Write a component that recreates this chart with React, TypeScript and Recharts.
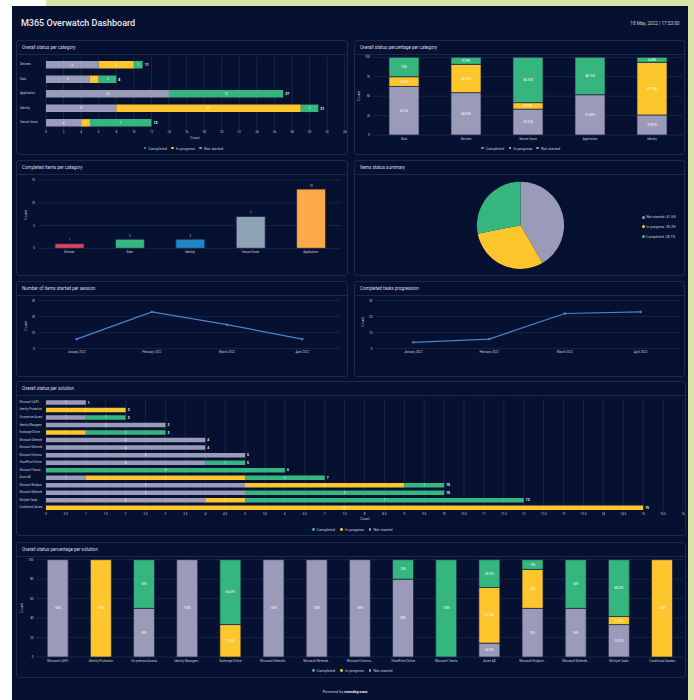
import React from 'react';
import {
  BarChart, Bar, XAxis, YAxis, CartesianGrid, LabelList,
  PieChart, Pie, Cell, LineChart, Line,
} from 'recharts';

const FONT = 'Roboto, "Noto Sans", Arial, sans-serif';
const BG = '#061030';
const BORDER = '#1e2848';
const GRID = '#1a2445';
const TXT = '#c9cddb';
const TITLE = '#d9dce6';
const GREEN_BAND = '#dae2a8';
const C_DONE = '#36b67f';
const C_PROG = '#fdc62c';
const C_NS = '#9a9ab9';
const LINE_C = '#4a84d0';
const BAR_EDGE = '#1b2142';

// ---------- Overall status per category ----------
const categoryNames = ['Devices', 'Data', 'Application', 'Identity', 'Secure Score'];
const categoryNotStarted = [6, 5, 14, 8, 4];
const categoryInProgress = [4, 1, 0, 21, 1];
const categoryCompleted = [1, 2, 13, 2, 7];
const categoryTotals = [11, 8, 27, 31, 12];
const categoryTicks = [0, 2, 4, 6, 8, 10, 12, 14, 16, 18, 20, 22, 24, 26, 28, 30, 32, 34];

// ---------- Overall status percentage per category ----------
const pctCategoryNames = ['Data', 'Devices', 'Secure Score', 'Application', 'Identity'];
const pctCategoryNotStarted = [62.5, 54.55, 33.33, 51.85, 25.81];
const pctCategoryInProgress = [12.5, 36.36, 8.33, 0, 67.74];
const pctCategoryCompleted = [25, 9.09, 58.33, 48.15, 6.45];
const pctTicks = [0, 25, 50, 75, 100];

// ---------- Completed items per category ----------
const doneCategoryNames = ['Devices', 'Data', 'Identity', 'Secure Score', 'Application'];
const doneCategoryValues = [1, 2, 2, 7, 13];
const doneCategoryColors = ['#e2445c', '#36b67f', '#1f86c8', '#8fa3b6', '#fca94a'];
const doneTicks = [0, 5, 10, 15];

// ---------- Items status summary ----------
const pieNames = ['Not started', 'In progress', 'Completed'];
const pieValues = [41.6, 30.3, 28.1];
const pieColors = [C_NS, C_PROG, C_DONE];

// ---------- Line charts ----------
const months = ['January 2022', 'February 2022', 'March 2022', 'April 2022'];
const startedPerSession = [6, 23, 15, 6];
const completedProgression = [4, 6, 22, 23];
const lineTicks = [0, 10, 20, 30];

// ---------- Overall status per solution ----------
const solutionNames = [
  'Microsoft LAPS', 'Identity Protection', 'On-premise Access', 'Identity Managem...',
  'Exchange Online', 'Microsoft Defende...', 'Microsoft Defende...', 'Microsoft Informa...',
  'SharePoint Online', 'Microsoft Teams', 'Azure AD', 'Microsoft Endpoin...',
  'Microsoft Defende...', 'Multiple Tasks', 'Conditional Access',
];
const solutionNotStarted = [1, 0, 1, 3, 0, 4, 4, 5, 4, 0, 1, 5, 5, 4, 0];
const solutionInProgress = [0, 2, 0, 0, 1, 0, 0, 0, 0, 0, 4, 4, 0, 1, 15];
const solutionCompleted = [0, 0, 1, 0, 2, 0, 0, 0, 1, 6, 2, 1, 5, 7, 0];
const solutionTotals = [1, 2, 2, 3, 3, 4, 4, 5, 5, 6, 7, 10, 10, 12, 15];
const solutionTicks = [0, 0.5, 1, 1.5, 2, 2.5, 3, 3.5, 4, 4.5, 5, 5.5, 6, 6.5, 7, 7.5, 8, 8.5, 9, 9.5, 10, 10.5, 11, 11.5, 12, 12.5, 13, 13.5, 14, 14.5, 15, 15.5, 16];

// ---------- Overall status percentage per solution ----------
const pctSolutionNotStarted = [100, 0, 50, 100, 0, 100, 100, 100, 80, 0, 14.29, 50, 50, 33.33, 0];
const pctSolutionInProgress = [0, 100, 0, 0, 33.33, 0, 0, 0, 0, 0, 57.14, 40, 0, 8.33, 100];
const pctSolutionCompleted = [0, 0, 50, 0, 66.67, 0, 0, 0, 20, 100, 28.57, 10, 50, 58.33, 0];
const pctSolutionTicks = [0, 20, 40, 60, 80, 100];

const legendItems = [
  { label: 'Completed', color: C_DONE },
  { label: 'In progress', color: C_PROG },
  { label: 'Not started', color: C_NS },
];

const categoryData = categoryNames.map((name, i) => ({
  name, ns: categoryNotStarted[i], ip: categoryInProgress[i], done: categoryCompleted[i], total: categoryTotals[i],
}));
const pctCategoryData = pctCategoryNames.map((name, i) => ({
  name, ns: pctCategoryNotStarted[i], ip: pctCategoryInProgress[i], done: pctCategoryCompleted[i],
}));
const doneCategoryData = doneCategoryNames.map((name, i) => ({ name, value: doneCategoryValues[i] }));
const pieData = pieNames.map((name, i) => ({ name, value: pieValues[i] }));
const startedData = months.map((name, i) => ({ name, value: startedPerSession[i] }));
const progressionData = months.map((name, i) => ({ name, value: completedProgression[i] }));
const solutionData = solutionNames.map((name, i) => ({
  name, ns: solutionNotStarted[i], ip: solutionInProgress[i], done: solutionCompleted[i], total: solutionTotals[i],
}));
const pctSolutionData = solutionNames.map((name, i) => ({
  name, ns: pctSolutionNotStarted[i], ip: pctSolutionInProgress[i], done: pctSolutionCompleted[i],
}));

const nz = (v: any) => (v ? v : '');
const pct = (v: any) => (v ? `${v}%` : '');
const tickStyle = { fill: TXT, fontSize: 3, fontFamily: FONT };

// the total is written after the last non-empty segment of each row
const lastSeg = (p: any) => (p.done ? 'done' : p.ip ? 'ip' : 'ns');
const totalAccessor = (key: string) => (entry: any) => {
  const p = entry && entry.payload;
  return p && lastSeg(p) === key ? p.total : '';
};

const LeftTick = (props: any) => {
  const { y, payload, x0, clipW, fs } = props;
  const label = String(payload.value).replace('...', '');
  return (
    <svg x={x0} y={y - 4} width={clipW} height={8} overflow="hidden">
      <text x={0} y={4} dy="0.35em" fill={TXT} fontSize={fs} fontFamily={FONT} textAnchor="start">{label}</text>
    </svg>
  );
};

const Panel = ({ x, y, w, h, title }: any) => (
  <div style={{ position: 'absolute', left: x, top: y, width: w, height: h, boxSizing: 'border-box', border: `1px solid ${BORDER}`, borderRadius: 3 }}>
    <div style={{ position: 'absolute', left: 5, top: 1, height: 12, lineHeight: '12px', fontSize: 4.5, color: TITLE, whiteSpace: 'nowrap' }}>{title}</div>
    <div style={{ position: 'absolute', left: 0, right: 0, top: 12.5, height: 1, background: BORDER }} />
  </div>
);

const AxisTitle = ({ x, y, rot }: any) => (
  <div style={{ position: 'absolute', left: x, top: y, transform: `translate(-50%,-50%)${rot ? ' rotate(-90deg)' : ''}`, fontSize: 3.5, color: TXT, whiteSpace: 'nowrap', lineHeight: 1 }}>Count</div>
);

const LegendRow = ({ y, xs }: any) => (
  <>
    {legendItems.map((it, i) => (
      <div key={i} style={{ position: 'absolute', left: xs[i] - 1.4, top: y - 3, height: 6, display: 'flex', alignItems: 'center', whiteSpace: 'nowrap', fontSize: 3.8, color: TXT }}>
        <span style={{ display: 'inline-block', width: 2.8, height: 2.8, borderRadius: '50%', background: it.color, marginRight: 2 }} />
        {it.label}
      </div>
    ))}
  </>
);

const Abs = ({ x, y, children }: any) => (
  <div style={{ position: 'absolute', left: x, top: y }}>{children}</div>
);

const StackedRows = ({ fs, tfs }: any) => null;

export default function App() {
  const segBars = (fs: number, tfs: number) => [
    <Bar key="ns" dataKey="ns" stackId="s" fill={C_NS} isAnimationActive={false}>
      <LabelList dataKey="ns" position="center" fill="#fff" fontSize={fs} formatter={nz} />
      <LabelList position="right" offset={2} fill="#fff" fontSize={tfs} fontWeight={700} valueAccessor={totalAccessor('ns')} />
    </Bar>,
    <Bar key="ip" dataKey="ip" stackId="s" fill={C_PROG} isAnimationActive={false}>
      <LabelList dataKey="ip" position="center" fill="#fff" fontSize={fs} formatter={nz} />
      <LabelList position="right" offset={2} fill="#fff" fontSize={tfs} fontWeight={700} valueAccessor={totalAccessor('ip')} />
    </Bar>,
    <Bar key="done" dataKey="done" stackId="s" fill={C_DONE} isAnimationActive={false}>
      <LabelList dataKey="done" position="center" fill="#fff" fontSize={fs} formatter={nz} />
      <LabelList position="right" offset={2} fill="#fff" fontSize={tfs} fontWeight={700} valueAccessor={totalAccessor('done')} />
    </Bar>,
  ];

  return (
    <div style={{ position: 'absolute', left: 0, top: 0, width: 694, height: 700, background: '#ffffff', overflow: 'hidden', fontFamily: FONT }}>
      <div style={{ position: 'absolute', left: 46, top: 0, width: 648, height: 6, background: GREEN_BAND }} />
      <div style={{ position: 'absolute', left: 688, top: 0, width: 6, height: 700, background: GREEN_BAND }} />
      <div style={{ position: 'absolute', left: 12, top: 6, width: 676, height: 694, background: BG }} />

      <div style={{ position: 'absolute', left: 21, top: 16, height: 14, lineHeight: '14px', fontSize: 9, fontWeight: 500, color: '#e8eaf1', whiteSpace: 'nowrap' }}>M365 Overwatch Dashboard</div>
      <div style={{ position: 'absolute', right: 694 - 679.5, top: 20, height: 7, lineHeight: '7px', fontSize: 4.7, color: TXT, whiteSpace: 'nowrap' }}>18 May, 2022 | 17:53:00</div>

      {/* Panel 1 */}
      <Panel x={16} y={40} w={332} h={115} title="Overall status per category" />
      <Abs x={16} y={53}>
        <BarChart width={332} height={102} data={categoryData} layout="vertical" margin={{ top: 4, right: 3.3, bottom: 0, left: 0 }} barSize={7.5}>
          <CartesianGrid horizontal={false} stroke={GRID} />
          <XAxis type="number" domain={[0, 34]} ticks={categoryTicks} interval={0} tickSize={0} tickMargin={1.6} axisLine={false} height={25.4} tick={tickStyle} />
          <YAxis type="category" dataKey="name" width={30} axisLine={false} tickLine={false} interval={0} tick={(p: any) => <LeftTick {...p} x0={4} clipW={26} fs={3} />} />
          {segBars(3, 3.5)}
        </BarChart>
      </Abs>
      <AxisTitle x={195} y={139} />
      <LegendRow y={148} xs={[145, 172.7, 200.7]} />

      {/* Panel 2 */}
      <Panel x={354} y={40} w={331} h={115} title="Overall status percentage per category" />
      <Abs x={354} y={53}>
        <BarChart width={331} height={102} data={pctCategoryData} margin={{ top: 4.3, right: 2, bottom: 14, left: 0 }} barSize={30}>
          <CartesianGrid vertical={false} stroke={GRID} />
          <XAxis dataKey="name" interval={0} tickSize={0} tickMargin={3} axisLine={false} height={6} tick={tickStyle} />
          <YAxis type="number" domain={[0, 100]} ticks={pctTicks} interval={0} width={19} tickSize={0} tickMargin={3} axisLine={false} tick={tickStyle} />
          <Bar dataKey="ns" stackId="s" fill={C_NS} stroke={BAR_EDGE} strokeWidth={0.7} isAnimationActive={false}>
            <LabelList dataKey="ns" position="center" fill="#fff" fontSize={3} formatter={pct} />
          </Bar>
          <Bar dataKey="ip" stackId="s" fill={C_PROG} stroke={BAR_EDGE} strokeWidth={0.7} isAnimationActive={false}>
            <LabelList dataKey="ip" position="center" fill="#fff" fontSize={3} formatter={pct} />
          </Bar>
          <Bar dataKey="done" stackId="s" fill={C_DONE} stroke={BAR_EDGE} strokeWidth={0.7} isAnimationActive={false}>
            <LabelList dataKey="done" position="center" fill="#fff" fontSize={3} formatter={pct} />
          </Bar>
        </BarChart>
      </Abs>
      <AxisTitle x={360} y={96} rot />
      <LegendRow y={148} xs={[482.3, 510, 537.7]} />

      {/* Panel 3 */}
      <Panel x={16} y={160} w={332} h={116} title="Completed items per category" />
      <Abs x={16} y={174}>
        <BarChart width={332} height={102} data={doneCategoryData} margin={{ top: 6, right: 7, bottom: 19.7, left: 0 }} barSize={29}>
          <CartesianGrid vertical={false} stroke={GRID} />
          <XAxis dataKey="name" interval={0} tickSize={0} tickMargin={2.5} axisLine={false} height={8} tick={tickStyle} />
          <YAxis type="number" domain={[0, 15]} ticks={doneTicks} interval={0} width={23} tickSize={0} tickMargin={4} axisLine={false} tick={tickStyle} />
          <Bar dataKey="value" stroke={BAR_EDGE} strokeWidth={0.8} isAnimationActive={false}>
            {doneCategoryData.map((d, i) => <Cell key={d.name} fill={doneCategoryColors[i]} />)}
            <LabelList dataKey="value" position="top" offset={2.5} fill={TXT} fontSize={3} />
          </Bar>
        </BarChart>
      </Abs>
      <AxisTitle x={27} y={215} rot />

      {/* Panel 4 */}
      <Panel x={354} y={160} w={331} h={116} title="Items status summary" />
      <Abs x={354} y={174}>
        <PieChart width={331} height={102} margin={{ top: 0, right: 0, bottom: 0, left: 0 }}>
          <Pie data={pieData} dataKey="value" nameKey="name" cx={166.5} cy={51.3} outerRadius={43.6} startAngle={90} endAngle={-270} stroke="none" isAnimationActive={false}>
            {pieData.map((d, i) => <Cell key={d.name} fill={pieColors[i]} />)}
          </Pie>
        </PieChart>
      </Abs>
      {pieData.map((d, i) => (
        <div key={d.name} style={{ position: 'absolute', left: 641.5, top: [217.3, 226.7, 236.7][i] - 3, height: 6, display: 'flex', alignItems: 'center', whiteSpace: 'nowrap', fontSize: 3.6, color: TXT }}>
          <span style={{ display: 'inline-block', width: 3, height: 3, borderRadius: '50%', background: pieColors[i], marginRight: 1.8 }} />
          {`${d.name}: ${d.value}%`}
        </div>
      ))}

      {/* Panel 5 */}
      <Panel x={16} y={281} w={332} h={96} title="Number of items started per session" />
      <Abs x={16} y={294}>
        <LineChart width={332} height={83} data={startedData} margin={{ top: 6.7, right: 8, bottom: 20.3, left: 0 }}>
          <CartesianGrid vertical={false} stroke={GRID} />
          <XAxis dataKey="name" interval={0} tickSize={0} tickMargin={2.5} axisLine={false} height={8} padding={{ left: 37.7, right: 37.7 }} tick={tickStyle} />
          <YAxis type="number" domain={[0, 30]} ticks={lineTicks} interval={0} width={23} tickSize={0} tickMargin={4} axisLine={false} tick={tickStyle} />
          <Line dataKey="value" stroke={LINE_C} strokeWidth={1.2} dot={{ r: 1, fill: LINE_C, stroke: LINE_C, strokeWidth: 0.5 }} isAnimationActive={false} />
        </LineChart>
      </Abs>
      <AxisTitle x={27} y={325.7} rot />

      {/* Panel 6 */}
      <Panel x={354} y={281} w={331} h={96} title="Completed tasks progression" />
      <Abs x={354} y={294}>
        <LineChart width={331} height={83} data={progressionData} margin={{ top: 6.7, right: 6.5, bottom: 20.3, left: 0 }}>
          <CartesianGrid vertical={false} stroke={GRID} />
          <XAxis dataKey="name" interval={0} tickSize={0} tickMargin={2.5} axisLine={false} height={8} padding={{ left: 37.9, right: 37.9 }} tick={tickStyle} />
          <YAxis type="number" domain={[0, 30]} ticks={lineTicks} interval={0} width={21.4} tickSize={0} tickMargin={3} axisLine={false} tick={tickStyle} />
          <Line dataKey="value" stroke={LINE_C} strokeWidth={1.2} dot={{ r: 1, fill: LINE_C, stroke: LINE_C, strokeWidth: 0.5 }} isAnimationActive={false} />
        </LineChart>
      </Abs>
      <AxisTitle x={364} y={322} rot />

      {/* Panel 7 */}
      <Panel x={16} y={381} w={670} h={155} title="Overall status per solution" />
      <Abs x={16} y={395}>
        <BarChart width={670} height={141} data={solutionData} layout="vertical" margin={{ top: 3.2, right: 3, bottom: 0, left: 0 }} barSize={4.5}>
          <CartesianGrid horizontal={false} stroke={GRID} />
          <XAxis type="number" domain={[0, 16]} ticks={solutionTicks} interval={0} tickSize={0} tickMargin={1.6} axisLine={false} height={24.9} tick={tickStyle} />
          <YAxis type="category" dataKey="name" width={30} axisLine={false} tickLine={false} interval={0} tick={(p: any) => <LeftTick {...p} x0={3.3} clipW={23} fs={2.8} />} />
          {segBars(2.8, 3.3)}
        </BarChart>
      </Abs>
      <AxisTitle x={365} y={520} />
      <LegendRow y={529.7} xs={[313.3, 341.7, 370]} />

      {/* Panel 8 */}
      <Panel x={16} y={542} w={670} h={136} title="Overall status percentage per solution" />
      <Abs x={16} y={555}>
        <BarChart width={670} height={123} data={pctSolutionData} margin={{ top: 4.7, right: 2.3, bottom: 15, left: 0 }} barSize={21}>
          <CartesianGrid vertical={false} stroke={GRID} />
          <XAxis dataKey="name" interval={0} tickSize={0} tickMargin={3} axisLine={false} height={6} tick={tickStyle} />
          <YAxis type="number" domain={[0, 100]} ticks={pctSolutionTicks} interval={0} width={20.2} tickSize={0} tickMargin={2.7} axisLine={false} tick={tickStyle} />
          <Bar dataKey="ns" stackId="s" fill={C_NS} stroke={BAR_EDGE} strokeWidth={0.7} isAnimationActive={false}>
            <LabelList dataKey="ns" position="center" fill="#fff" fontSize={2.8} formatter={pct} />
          </Bar>
          <Bar dataKey="ip" stackId="s" fill={C_PROG} stroke={BAR_EDGE} strokeWidth={0.7} isAnimationActive={false}>
            <LabelList dataKey="ip" position="center" fill="#fff" fontSize={2.8} formatter={pct} />
          </Bar>
          <Bar dataKey="done" stackId="s" fill={C_DONE} stroke={BAR_EDGE} strokeWidth={0.7} isAnimationActive={false}>
            <LabelList dataKey="done" position="center" fill="#fff" fontSize={2.8} formatter={pct} />
          </Bar>
        </BarChart>
      </Abs>
      <AxisTitle x={22.7} y={608} rot />
      <LegendRow y={670.3} xs={[313.3, 341.7, 370]} />

      <div style={{ position: 'absolute', left: 245, width: 200, top: 689, height: 6, lineHeight: '6px', textAlign: 'center', fontSize: 4, color: TXT, whiteSpace: 'nowrap' }}>
        Powered by <span style={{ fontWeight: 700, color: '#e8eaf1' }}>monday.com</span>
      </div>
    </div>
  );
}
